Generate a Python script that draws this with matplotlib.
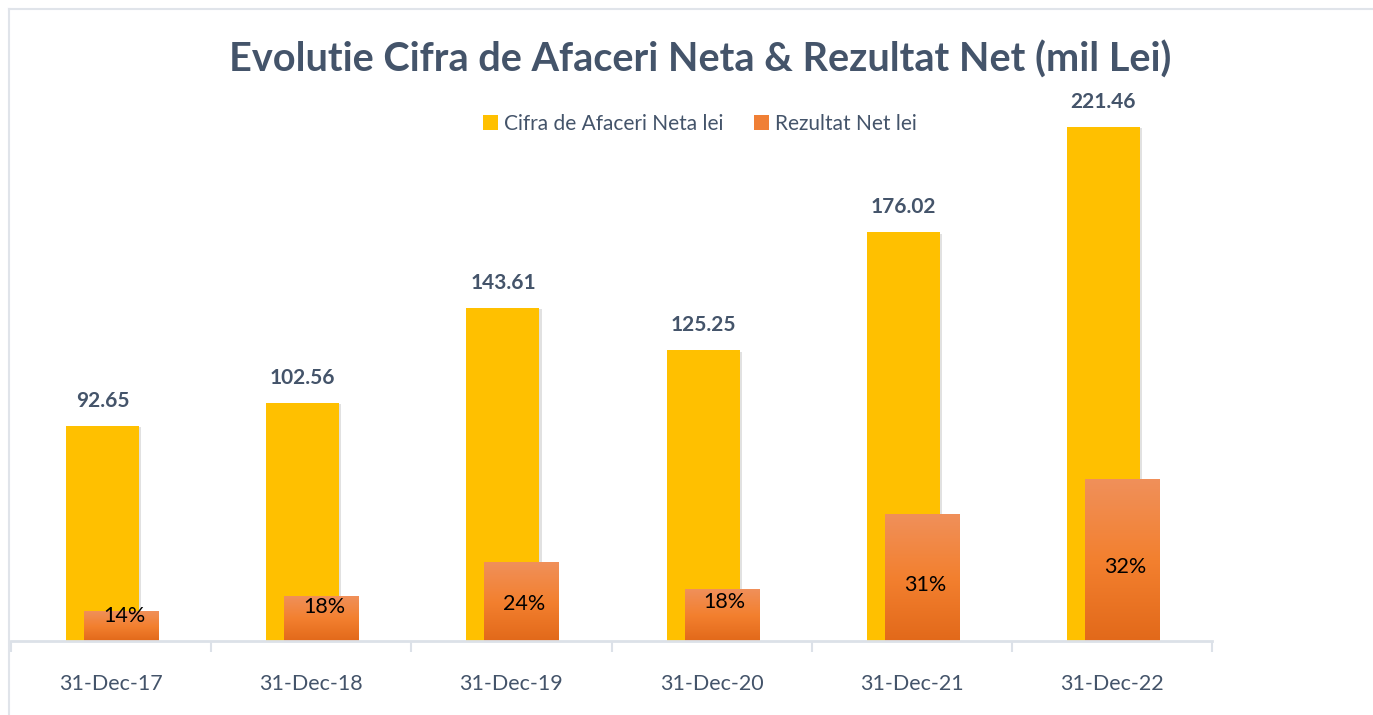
import numpy as np
import matplotlib
matplotlib.use('Agg')
import matplotlib.pyplot as plt
import matplotlib.patheffects as pe
from matplotlib.colors import to_rgb
from matplotlib.patches import Patch
from matplotlib.lines import Line2D

# Date (mil Lei)
categories = ['31-Dec-17', '31-Dec-18', '31-Dec-19', '31-Dec-20', '31-Dec-21', '31-Dec-22']
cifra_afaceri = [92.65, 102.56, 143.61, 125.25, 176.02, 221.46]
rezultat_net = [12.9, 19.0, 34.0, 22.4, 54.7, 69.8]
marja_labels = ['14%', '18%', '24%', '18%', '31%', '32%']
marja_label_y = [10.8, 14.5, 15.9, 16.8, 24.1, 32.0]

text_color = '#44546A'
yellow = '#FFC000'
grad_top, grad_mid, grad_bot = '#F0905A', '#F3802F', '#E2691A'
grid_color = '#DCE1E8'

plt.rcParams['font.family'] = ['Lato', 'DejaVu Sans']

fig = plt.figure(figsize=(13.73, 7.15), dpi=100)
ax = fig.add_axes([11 / 1373, 1 - 641 / 715, 1201 / 1373, 557 / 715])

x = np.arange(len(categories))
w_y, w_o = 0.365, 0.37
off_y, off_o = -0.0425, 0.05

# bare galbene cu umbra discreta
bars_y = ax.bar(x + off_y, cifra_afaceri, width=w_y, color=yellow, zorder=2)
for b in bars_y:
    b.set_path_effects([pe.SimplePatchShadow(offset=(1.5, -1.0), shadow_rgbFace='#888888', alpha=0.25), pe.Normal()])

# bare portocalii cu gradient
c_top, c_mid, c_bot = map(np.array, map(to_rgb, [grad_top, grad_mid, grad_bot]))
t = np.linspace(0, 1, 200)[:, None]
grad = np.where(t < 0.5, c_top + (c_mid - c_top) * (t / 0.5), c_mid + (c_bot - c_mid) * ((t - 0.5) / 0.5))
grad = grad[:, None, :]
for xi, h in zip(x, rezultat_net):
    ax.imshow(grad, extent=[xi + off_o - w_o / 2, xi + off_o + w_o / 2, 0, h],
              origin='upper', aspect='auto', zorder=3, interpolation='bilinear')

# etichete valori
for xi, v in zip(x, cifra_afaceri):
    ax.annotate(f'{v:.2f}', (xi + off_y, v), xytext=(0, 18), textcoords='offset points',
                ha='center', va='center', fontsize=15, fontweight='bold', color=text_color)
for xi, lab, ly in zip(x, marja_labels, marja_label_y):
    ax.text(xi + off_o + 0.015, ly, lab, ha='center', va='center', fontsize=15.5, color='black', zorder=4)

ax.set_xlim(-0.5, len(categories) - 0.5)
ax.set_ylim(0, 240)
ax.set_yticks([])
for s in ['top', 'right', 'left']:
    ax.spines[s].set_visible(False)
ax.spines['bottom'].set_color(grid_color)
ax.spines['bottom'].set_linewidth(2)
ax.spines['bottom'].set_zorder(5)

ax.set_xticks(np.arange(len(categories) + 1) - 0.5)
ax.set_xticklabels([])
ax.tick_params(axis='x', which='major', length=8, width=1.5, color=grid_color, direction='out')
ax.set_xticks(x, minor=True)
ax.set_xticklabels(categories, minor=True, fontsize=15.5, color=text_color)
ax.tick_params(axis='x', which='minor', length=0, pad=24)
ax.set_facecolor('none')

fig.text(0.51, 1 - 60 / 715, 'Evolutie Cifra de Afaceri Neta & Rezultat Net (mil Lei)',
         ha='center', va='center', fontsize=28.5, fontweight='bold', color=text_color)

handles = [Patch(facecolor=yellow), Patch(facecolor='#F07F35')]
fig.legend(handles, ['Cifra de Afaceri Neta lei', 'Rezultat Net lei'], loc='center',
           bbox_to_anchor=(700 / 1373, 1 - 124 / 715), ncol=2, frameon=False,
           fontsize=15, labelcolor=text_color, handlelength=0.7, handleheight=0.7,
           handletextpad=0.3, columnspacing=1.5)

# chenar exterior
fig.add_artist(Line2D([9 / 1373, 9 / 1373], [0, 1 - 9 / 715], color='#E0E4EA', lw=1.5))
fig.add_artist(Line2D([9 / 1373, 1], [1 - 9 / 715, 1 - 9 / 715], color='#E0E4EA', lw=1.5))

fig.savefig('out.png', dpi=100, facecolor='white')
